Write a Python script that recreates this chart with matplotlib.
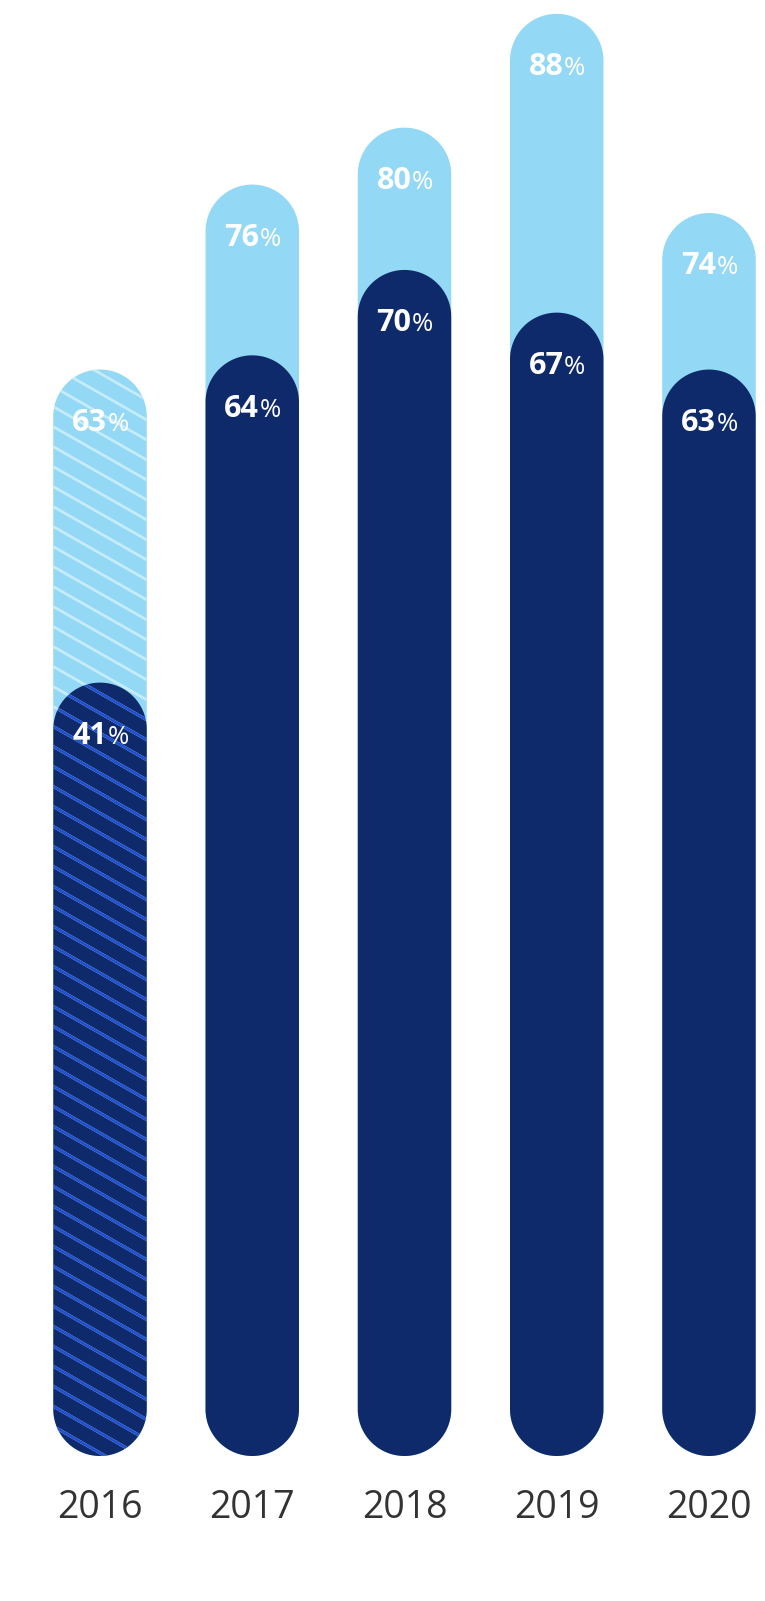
import numpy as np
import matplotlib.pyplot as plt
from matplotlib.patches import Polygon

plt.rcParams["font.family"] = ["Open Sans", "DejaVu Sans"]

# values per year: outer (light) bar and inner (dark) bar, in %
years = ["2016", "2017", "2018", "2019", "2020"]
total = [63, 76, 80, 88, 74]
inner = [41, 64, 70, 67, 63]
hatched = [True, False, False, False, False]

light = "#93d8f5"
navy = "#0e2a6b"
light_hatch = "#c6ecfa"
navy_hatch = "#1f4fcf"

W, H = 765, 1601
fig = plt.figure(figsize=(W / 100, H / 100), dpi=100)
ax = fig.add_axes([0, 0, 1, 1])
ax.set_xlim(-0.657, 4.368)
ax.set_ylim(-23.54, 88.97)
ax.axis("off")

bar_w = 0.614
base = -13.35
rx = bar_w / 2
# y radius of the caps so they come out round on screen
xspan = ax.get_xlim()[1] - ax.get_xlim()[0]
yspan = ax.get_ylim()[1] - ax.get_ylim()[0]
ry = rx * (yspan / H) / (xspan / W)


def pill(x, top, color):
    t = np.linspace(0, np.pi, 80)
    up = np.column_stack([x + rx * np.cos(t), top - ry + ry * np.sin(t)])
    dn = np.column_stack([x - rx * np.cos(t), base + ry - ry * np.sin(t)])
    poly = Polygon(np.vstack([up, dn]), closed=True, fc=color, ec="none")
    ax.add_patch(poly)
    return poly


def stripes(poly, x, top, color):
    slope = -6.1
    xs = np.array([x - bar_w, x + bar_w])
    for c in np.arange(base - 4, top + 4, 1.405):
        ln, = ax.plot(xs, c + slope * (xs - x), color=color, lw=2.0,
                      solid_capstyle="butt")
        ln.set_clip_path(poly)


def label(x, v):
    y = v - 4.3
    ax.annotate(f"{v}", (x, y), xytext=(5.0, 0), textcoords="offset points",
                ha="right", va="baseline", fontsize=22, fontweight="bold",
                color="white")
    ax.annotate("%", (x, y), xytext=(5.3, 0), textcoords="offset points",
                ha="left", va="baseline", fontsize=18.5, color="white")


for i, yr in enumerate(years):
    p = pill(i, total[i], light)
    if hatched[i]:
        stripes(p, i, total[i], light_hatch)
    p = pill(i, inner[i], navy)
    if hatched[i]:
        stripes(p, i, inner[i], navy_hatch)
    label(i, total[i])
    label(i, inner[i])
    ax.text(i, -17.71, yr, ha="center", va="baseline", fontsize=27,
            color="#333333")

fig.savefig("out.png", dpi=100)
